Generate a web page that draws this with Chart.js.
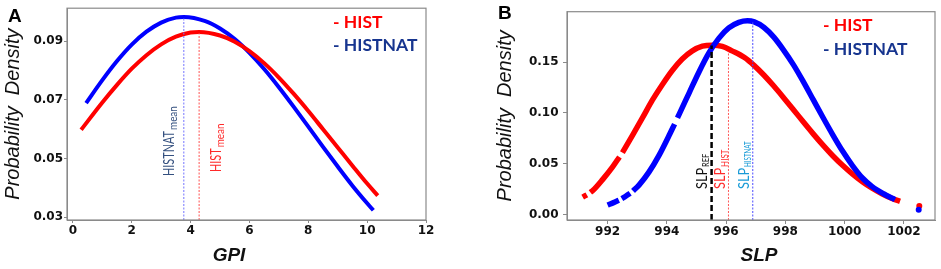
<!DOCTYPE html>
<html>
<head>
<meta charset="utf-8">
<script src="https://cdn.jsdelivr.net/npm/chart.js@4.4.0/dist/chart.umd.min.js"></script>
<style>
  body { margin: 0; background: #fff; }
  #wrap { position: relative; width: 941px; height: 269px; overflow: hidden; }
  .panel { position: absolute; top: 0; height: 269px; }
  .panel canvas { position: absolute; left: 0; top: 0; }
  .lbl { position: absolute; white-space: nowrap; line-height: 1; }
  .letter { font: bold 19px "Liberation Sans", Arial, sans-serif; color: #000; }
  .leg { font: bold 17.5px Lato, sans-serif; transform: translateY(-50%); }
  .xt { font: italic bold 19px "Liberation Sans", Arial, sans-serif; color: #111; transform: translate(-50%, -50%); }
</style>
</head>
<body>
<div id="wrap">
  <div class="panel" style="left:0;width:470px">
    <canvas id="gpi_chart" width="470" height="269"></canvas>
    <div class="lbl letter" style="left:8px;top:4.5px">A</div>
    <div class="lbl leg" style="left:333px;top:21px;color:#ff0000">- HIST</div>
    <div class="lbl leg" style="left:333px;top:44px;color:#17358f">- HISTNAT</div>
    <div class="lbl xt" style="left:229px;top:255px">GPI</div>
  </div>
  <div class="panel" style="left:470px;width:471px">
    <canvas id="slp_chart" width="471" height="269"></canvas>
    <div class="lbl letter" style="left:28px;top:1.5px">B</div>
    <div class="lbl leg" style="left:353px;top:23.5px;color:#ff0000">- HIST</div>
    <div class="lbl leg" style="left:353px;top:47.5px;color:#17358f">- HISTNAT</div>
    <div class="lbl xt" style="left:289px;top:255px">SLP</div>
  </div>
</div>
<script>
// panel A - GPI
var gpiHistX = [0.28, 1, 1.5, 2, 2.5, 3, 3.5, 4, 4.29, 5, 5.5, 6, 6.5, 7, 7.5, 8, 8.5, 9, 9.5, 10, 10.36]
var gpiHistY = [0.0598, 0.0691, 0.0751, 0.0806, 0.0852, 0.0889, 0.0915, 0.0929, 0.0931, 0.0919, 0.0898, 0.0866, 0.0825, 0.0776, 0.0721, 0.0662, 0.0600, 0.0538, 0.0476, 0.0415, 0.0374]
var gpiNatX = [0.45, 1, 1.5, 2, 2.5, 3, 3.5, 3.77, 4.5, 5, 5.5, 6, 6.5, 7, 7.5, 8, 8.5, 9, 9.5, 10, 10.21]
var gpiNatY = [0.0689, 0.0767, 0.0832, 0.0888, 0.0932, 0.0963, 0.0980, 0.0982, 0.0968, 0.0943, 0.0907, 0.0860, 0.0805, 0.0743, 0.0677, 0.0609, 0.0540, 0.0473, 0.0408, 0.0348, 0.0324]
var gpiMeans = [4.29, 3.77]          // HIST, HISTNAT
var gpiMeanTops = [0.0927, 0.0977]
var gpiXTicks = [0, 2, 4, 6, 8, 10, 12]
var gpiYTicks = [0.03, 0.05, 0.07, 0.09]
var gpiXRange = [-0.2, 12]
var gpiYRange = [0.0291, 0.1012]

// panel B - SLP (null = break in the dotted trace)
var slpHistX = [991.16, 991.3, 991.36, 991.42, 991.5, 991.83, 992.17, 992.4, 992.45, 992.5, 992.84, 993.18, 993.51, 993.85, 994.19, 994.52, 994.86, 995.2, 995.53, 995.87, 996.2, 996.62, 996.95, 997.28, 997.61, 997.94, 998.28, 998.61, 998.94, 999.27, 999.6, 999.93, 1000.27, 1000.6, 1000.93, 1001.26, 1001.6, 1001.87]
var slpHistY = [0.0172, 0.0195, null, 0.0218, 0.0236, 0.0344, 0.0469, 0.0567, null, 0.061, 0.078, 0.0953, 0.1125, 0.128, 0.142, 0.153, 0.161, 0.1656, 0.1666, 0.1654, 0.1610, 0.1544, 0.1465, 0.1370, 0.1264, 0.1150, 0.1029, 0.0910, 0.0794, 0.0683, 0.0579, 0.0485, 0.0398, 0.0323, 0.0259, 0.0205, 0.0159, 0.0131]
var slpNatX = [992.0, 992.2, 992.38, 992.43, 992.48, 992.6, 992.76, 992.81, 992.86, 993.06, 993.4, 993.74, 994.07, 994.26, 994.31, 994.36, 994.41, 994.75, 995.08, 995.42, 995.76, 996.09, 996.43, 996.72, 996.95, 997.28, 997.61, 997.94, 998.28, 998.61, 998.94, 999.27, 999.6, 999.93, 1000.27, 1000.6, 1000.93, 1001.31, 1001.7]
var slpNatY = [0.0094, 0.0118, 0.0142, null, 0.0157, 0.0178, 0.0210, null, 0.0232, 0.0290, 0.0420, 0.0585, 0.0775, 0.0890, null, 0.0952, 0.0984, 0.1195, 0.1400, 0.1590, 0.1735, 0.1835, 0.1890, 0.1906, 0.1895, 0.1840, 0.1745, 0.1618, 0.1470, 0.1305, 0.1130, 0.0955, 0.0785, 0.0625, 0.0480, 0.0360, 0.0275, 0.0205, 0.0147]
var slpHistOutlier = [1002.52, 0.0084]
var slpNatOutlier = [1002.5, 0.0047]
var slpLines = [995.51, 996.08, 996.9]     // REF, HIST, HISTNAT
var slpLineTops = [0.1662, 0.160, 0.189]
var slpXTicks = [992, 994, 996, 998, 1000, 1002]
var slpYTicks = [0, 0.05, 0.10, 0.15]
var slpXRange = [990.63, 1003.05]
var slpYRange = [-0.0053, 0.1995]

var tickFont = {family: 'DejaVu Sans', weight: 'bold', size: 12}
var titleFont = {family: 'Liberation Sans', style: 'italic', size: 20}

function pts(xs, ys) {
    return xs.map(function(x, i){ return {x: x, y: ys[i]} })
}
function vline(x, y0, y1) {
    return [{x: x, y: y0}, {x: x, y: y1}]
}

// box around the plot area
var frame = {
    id: 'frame',
    afterDatasetsDraw: function(chart) {
        var a = chart.chartArea, c = chart.ctx
        c.save()
        c.strokeStyle = '#8a8a8a'
        c.lineWidth = 1.2
        c.strokeRect(a.left, a.top, a.right - a.left, a.bottom - a.top)
        c.restore()
    }
}

// rotated labels with a subscript, placed next to the vertical lines
function meanLabels(items) {
    return {
        id: 'meanLabels',
        afterDatasetsDraw: function(chart) {
            var c = chart.ctx, xs = chart.scales.x
            items.forEach(function(it){
                var px = xs.getPixelForValue(it.value) + it.dx
                c.save()
                c.fillStyle = it.color
                c.textBaseline = 'middle'
                c.textAlign = 'left'
                c.translate(px, it.bottom)
                c.rotate(-Math.PI / 2)
                c.save()
                c.scale(it.sq, 1)
                c.font = it.size + 'px Lato'
                c.fillText(it.text, 0, 0)
                var w = c.measureText(it.text).width * it.sq
                c.restore()
                c.scale(it.subSq, 1)
                c.font = it.subSize + 'px Lato'
                c.fillText(it.sub, (w + 1) / it.subSq, it.subDy)
                c.restore()
            })
        }
    }
}

function axes(xr, yr, xt, yt, yWidth, yPad, tl) {
    return {
        x: {
            type: 'linear', min: xr[0], max: xr[1],
            afterBuildTicks: function(s){ s.ticks = xt.map(function(v){ return {value: v} }) },
            ticks: {font: tickFont, color: '#111', padding: 1, maxRotation: 0, autoSkip: false,
                    callback: function(v){ return v }},
            grid: {drawOnChartArea: false, tickLength: tl, color: '#8a8a8a'},
            border: {color: '#8a8a8a'},
            afterFit: function(s){ s.height = 49 }
        },
        y: {
            type: 'linear', min: yr[0], max: yr[1],
            afterBuildTicks: function(s){ s.ticks = yt.map(function(v){ return {value: v} }) },
            ticks: {font: tickFont, color: '#111', padding: yPad, autoSkip: false,
                    callback: function(v){ return v.toFixed(2) }},
            grid: {drawOnChartArea: false, tickLength: tl, color: '#8a8a8a'},
            border: {color: '#8a8a8a'},
            title: {display: true, text: 'Probability  Density', font: titleFont, color: '#111',
                    padding: {top: 1, bottom: 0}},
            afterFit: function(s){ s.width = yWidth }
        }
    }
}

var gpiChart = new Chart(document.getElementById('gpi_chart'), {
    type: 'line',
    data: {
        datasets: [
            {label: 'HISTNAT mean', data: vline(gpiMeans[1], gpiYRange[0], gpiMeanTops[1]),
             borderColor: '#7474ff', borderWidth: 1, borderDash: [2, 1.5], pointRadius: 0},
            {label: 'HIST mean', data: vline(gpiMeans[0], gpiYRange[0], gpiMeanTops[0]),
             borderColor: '#ff5050', borderWidth: 1, borderDash: [2, 1.5], pointRadius: 0},
            {label: 'HIST', data: pts(gpiHistX, gpiHistY), borderColor: '#ff0000', borderWidth: 4,
             pointRadius: 0, cubicInterpolationMode: 'monotone'},
            {label: 'HISTNAT', data: pts(gpiNatX, gpiNatY), borderColor: '#0000ff', borderWidth: 4,
             pointRadius: 0, cubicInterpolationMode: 'monotone'}
        ]
    },
    options: {
        responsive: false,
        animation: false,
        layout: {padding: {top: 2, right: 44, left: 0, bottom: 0}},
        plugins: {legend: {display: false}, tooltip: {enabled: false}},
        scales: axes(gpiXRange, gpiYRange, gpiXTicks, gpiYTicks, 67, 1, 3)
    },
    plugins: [frame, meanLabels([
        {text: 'HISTNAT', sub: 'mean', value: gpiMeans[1], dx: -14, bottom: 176, color: '#34507f',
         size: 14.5, sq: 0.75, subSize: 11, subSq: 0.9, subDy: 4},
        {text: 'HIST', sub: 'mean', value: gpiMeans[0], dx: 17, bottom: 172, color: '#ff2a2a',
         size: 14.5, sq: 0.75, subSize: 11, subSq: 0.9, subDy: 4}
    ])]
});

var slpChart = new Chart(document.getElementById('slp_chart'), {
    type: 'line',
    data: {
        datasets: [
            {label: 'SLP REF', data: vline(slpLines[0], slpYRange[0], slpLineTops[0]),
             borderColor: '#000000', borderWidth: 2.5, borderDash: [6, 3], pointRadius: 0},
            {label: 'SLP HIST', data: vline(slpLines[1], slpYRange[0], slpLineTops[1]),
             borderColor: '#ff5a5a', borderWidth: 1, borderDash: [2, 1.5], pointRadius: 0},
            {label: 'SLP HISTNAT', data: vline(slpLines[2], slpYRange[0], slpLineTops[2]),
             borderColor: '#4a4aff', borderWidth: 1, borderDash: [2, 1.5], pointRadius: 0},
            {label: 'HISTNAT', data: pts(slpNatX, slpNatY), borderColor: '#0000ff', borderWidth: 5.5,
             borderCapStyle: 'butt', pointRadius: 0, cubicInterpolationMode: 'monotone', spanGaps: false},
            {label: 'HISTNAT tail', data: [{x: slpNatOutlier[0], y: slpNatOutlier[1]}], showLine: false,
             pointRadius: 3, pointBorderWidth: 0, pointBackgroundColor: '#0000ff'},
            {label: 'HIST', data: pts(slpHistX, slpHistY), borderColor: '#ff0000', borderWidth: 5.5,
             borderCapStyle: 'butt', pointRadius: 0, cubicInterpolationMode: 'monotone', spanGaps: false},
            {label: 'HIST tail', data: [{x: slpHistOutlier[0], y: slpHistOutlier[1]}], showLine: false,
             pointRadius: 3, pointBorderWidth: 0, pointBackgroundColor: '#ff0000'}
        ]
    },
    options: {
        responsive: false,
        animation: false,
        layout: {padding: {top: 3, right: 6, left: 22, bottom: 0}},
        plugins: {legend: {display: false}, tooltip: {enabled: false}},
        scales: axes(slpXRange, slpYRange, slpXTicks, slpYTicks, 75, 4.5, 4)
    },
    plugins: [frame, meanLabels([
        {text: 'SLP', sub: 'REF', value: slpLines[0], dx: -10, bottom: 189, color: '#111',
         size: 15.5, sq: 0.82, subSize: 10, subSq: 0.75, subDy: 4.5},
        {text: 'SLP', sub: 'HIST', value: slpLines[1], dx: -8, bottom: 189, color: '#ff2a2a',
         size: 15.5, sq: 0.82, subSize: 10, subSq: 0.8, subDy: 4.5},
        {text: 'SLP', sub: 'HISTNAT', value: slpLines[2], dx: -9, bottom: 189, color: '#1a9bd7',
         size: 15.5, sq: 0.82, subSize: 10, subSq: 0.62, subDy: 4.5}
    ])]
});
</script>
</body>
</html>
